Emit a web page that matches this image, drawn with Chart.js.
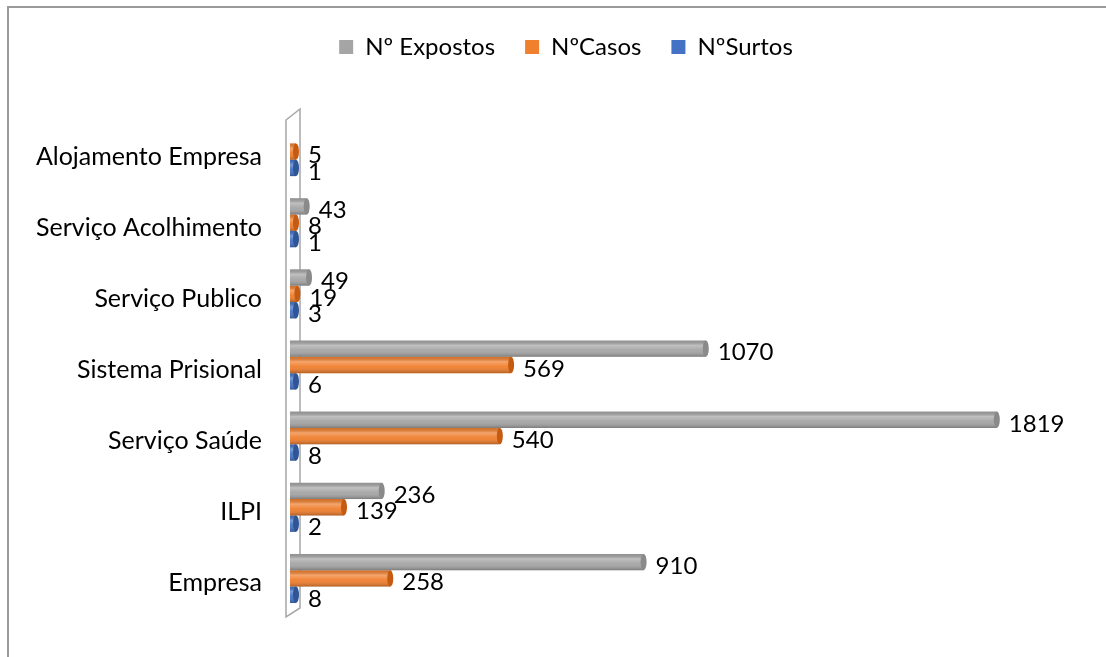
<!DOCTYPE html>
<html>
<head>
<meta charset="utf-8">
<script src="https://cdn.jsdelivr.net/npm/chart.js@4"></script>
<style>
  html, body { margin: 0; padding: 0; background: #fff; }
  #wrap { width: 1106px; height: 657px; }
</style>
</head>
<body>
<div id="wrap"><canvas id="canva"></canvas></div>
<script>
const labels = ["Alojamento Empresa", "Serviço Acolhimento", "Serviço Publico", "Sistema Prisional", "Serviço Saúde", "ILPI", "Empresa"];
const expostos = [null, 43, 49, 1070, 1819, 236, 910];
const casos = [5, 8, 19, 569, 540, 139, 258];
const surtos = [1, 1, 3, 6, 8, 2, 8];

const FONT = "Lato";
const capColors = ["#8a8a8a", "#c55a11", "#2f5597"];

// frame of the chart object (left and top edges only)
const framePlugin = {
  id: "frame",
  beforeDraw(chart) {
    const ctx = chart.ctx;
    ctx.save();
    ctx.strokeStyle = "#9a9a9a";
    ctx.lineWidth = 2;
    ctx.beginPath();
    ctx.moveTo(8, chart.height);
    ctx.lineTo(8, 7);
    ctx.lineTo(chart.width, 7);
    ctx.stroke();
    ctx.restore();
  },
};

// the thin 3D side wall behind the bars
const wallPlugin = {
  id: "wall",
  beforeDatasetsDraw(chart) {
    const { left, top, bottom } = chart.chartArea;
    const ctx = chart.ctx;
    ctx.save();
    ctx.strokeStyle = "#a6a6a6";
    ctx.lineWidth = 1.5;
    ctx.beginPath();
    ctx.moveTo(left - 4, top + 4);
    ctx.lineTo(left + 10, top - 7);
    ctx.lineTo(left + 10, bottom - 6);
    ctx.lineTo(left - 4, bottom + 3);
    ctx.closePath();
    ctx.stroke();
    ctx.restore();
  },
};

// cylinder shading + value labels
const shadePlugin = {
  id: "shade",
  afterDatasetsDraw(chart) {
    const ctx = chart.ctx;
    ctx.save();
    chart.data.datasets.forEach((ds, di) => {
      const meta = chart.getDatasetMeta(di);
      if (meta.hidden) return;
      meta.data.forEach((bar, i) => {
        if (ds.data[i] == null) return;
        const { x, y, base, height } = bar.getProps(["x", "y", "base", "height"], true);
        const h = height;
        const g = ctx.createLinearGradient(0, y - h / 2, 0, y + h / 2);
        g.addColorStop(0, "rgba(0,0,0,0.10)");
        g.addColorStop(0.3, "rgba(255,255,255,0.30)");
        g.addColorStop(0.6, "rgba(255,255,255,0.04)");
        g.addColorStop(1, "rgba(0,0,0,0.26)");
        ctx.fillStyle = g;
        ctx.fillRect(base, y - h / 2, x - base, h);
        ctx.fillStyle = capColors[di];
        ctx.beginPath();
        ctx.ellipse(x, y, 3, h / 2, 0, 0, Math.PI * 2);
        ctx.fill();
      });
    });
    ctx.fillStyle = "#000";
    ctx.font = "24px " + FONT;
    ctx.textBaseline = "middle";
    ctx.textAlign = "left";
    chart.data.datasets.forEach((ds, di) => {
      const meta = chart.getDatasetMeta(di);
      if (meta.hidden) return;
      meta.data.forEach((bar, i) => {
        const v = ds.data[i];
        if (v == null) return;
        ctx.fillText(String(v), bar.x + 12, bar.y + 4);
      });
    });
    ctx.restore();
  },
};

// leave room below the legend
const legendGap = {
  id: "legendGap",
  beforeInit(chart) {
    const fit = chart.legend.fit;
    chart.legend.fit = function () {
      fit.bind(chart.legend)();
      this.height = 111;
    };
  },
};

const data = {
  labels: labels,
  datasets: [
    { label: "Nº Expostos", data: expostos, backgroundColor: "#a5a5a5" },
    { label: "NºCasos", data: casos, backgroundColor: "#f07f2e" },
    { label: "NºSurtos", data: surtos, backgroundColor: "#4472c4" },
  ],
};

const config = {
  type: "bar",
  data: data,
  options: {
    indexAxis: "y",
    responsive: true,
    maintainAspectRatio: false,
    animation: false,
    layout: { padding: { left: 26, right: 0, top: 5, bottom: 32 } },
    datasets: {
      bar: { categoryPercentage: 0.69, barPercentage: 1.0, minBarLength: 6, borderSkipped: "start" },
    },
    scales: {
      x: { display: false, min: 0, max: 2100 },
      y: {
        grid: { display: false, drawTicks: false },
        border: { display: false },
        ticks: { color: "#000", font: { family: FONT, size: 25 }, padding: 28, labelOffset: 5 },
        afterFit(s) { s.width = 264; },
      },
    },
    plugins: {
      legend: {
        labels: { boxWidth: 14, boxHeight: 14, padding: 30, color: "#000", font: { family: FONT, size: 24 } },
      },
      tooltip: { enabled: false },
    },
  },
  plugins: [legendGap, framePlugin, wallPlugin, shadePlugin],
};
const myChart = new Chart(document.getElementById("canva"), config);
</script>
</body>
</html>
